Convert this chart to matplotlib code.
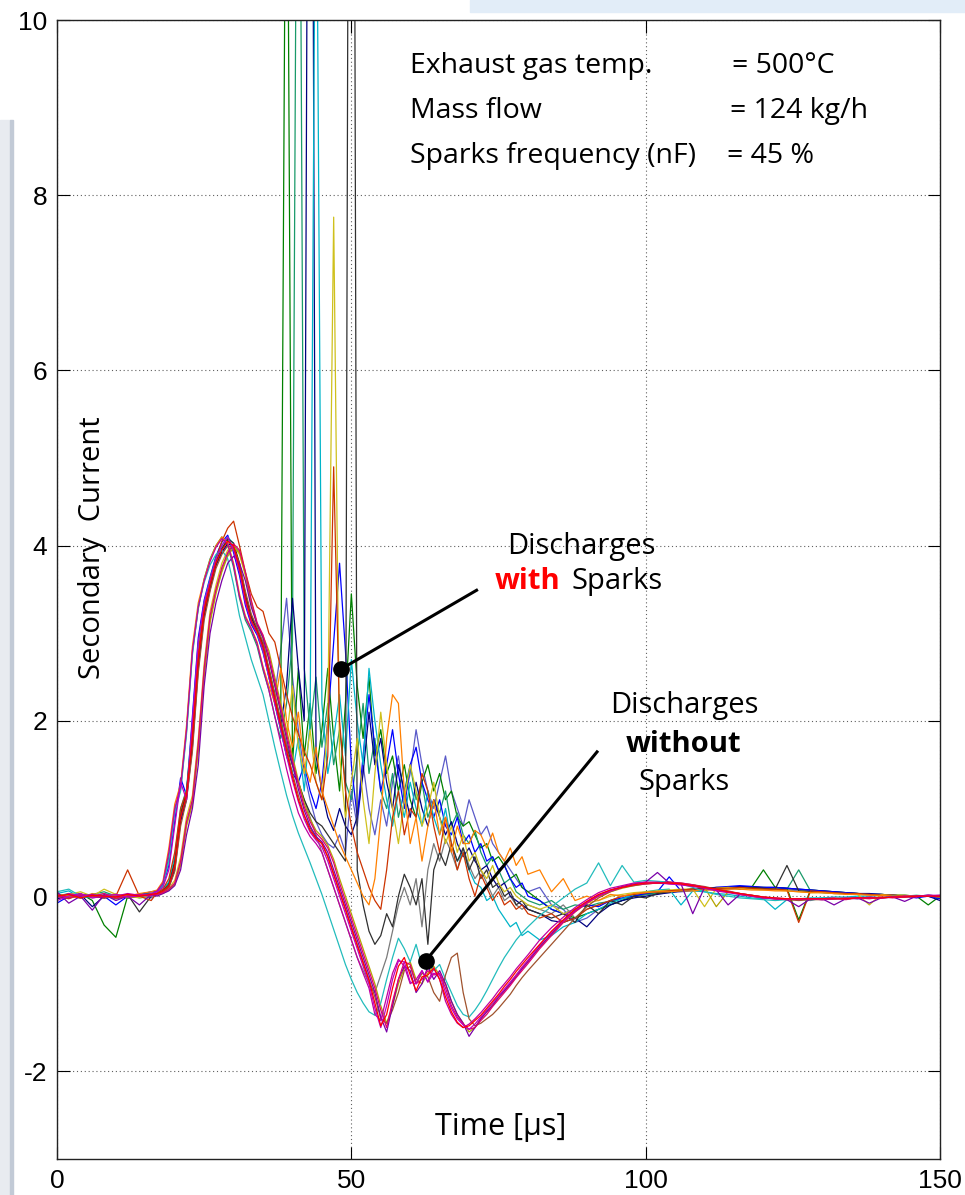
import matplotlib
matplotlib.use("Agg")
import matplotlib.pyplot as plt
from matplotlib.patches import Rectangle
import numpy as np

plt.rcParams['font.family'] = ['Liberation Sans', 'DejaVu Sans']
plt.rcParams['axes.unicode_minus'] = False

# sample times [us]: coarse before the pulse, 1 us through the discharge, coarse in the tail
t_us = np.r_[0:17:2, 17:81, 82:151:2]

# ---- discharges without sparks ----
wo_crimson = ([0.02, -0.02, 0.01, 0.0, 0.03, -0.02, 0.0, 0.02, 0.01] +
              [0.02, 0.04, 0.08, 0.15, 0.4, 0.85, 1.1, 1.75, 2.6, 3.2, 3.5, 3.75, 3.92, 4.02, 3.95, 3.7, 3.38, 3.12, 2.98] +
              [2.75, 2.45, 2.15, 1.85, 1.55, 1.28, 1.02, 0.85, 0.72, 0.65, 0.55, 0.38, 0.15, -0.05, -0.25,
               -0.45, -0.65, -0.85, -1.05, -1.3, -1.5, -1.2, -0.95, -0.75, -0.78, -1.0, -0.95, -0.85, -0.9, -0.88,
               -1.05, -1.25, -1.38, -1.46, -1.52, -1.5, -1.42, -1.35, -1.26, -1.18, -1.1, -1.02, -0.93, -0.85, -0.77] +
              [-0.6, -0.45, -0.3, -0.18, -0.08, 0.0, 0.06, 0.1, 0.13, 0.14, 0.15, 0.16, 0.15, 0.13, 0.1,
               0.07, 0.05, 0.02, 0.0, -0.02, -0.03, -0.04, -0.03, -0.04, -0.03, -0.02, -0.04, -0.02, -0.03, -0.01,
               -0.02, 0.0, -0.01, 0.01, 0.0])
wo_red = ([0.0, 0.02, -0.02, 0.01, 0.0, -0.01, 0.02, 0.0, 0.02] +
          [0.03, 0.06, 0.12, 0.35, 0.9, 1.15, 1.8, 2.7, 3.25, 3.55, 3.8, 3.95, 4.05, 4.0, 3.75, 3.4, 3.15, 3.02, 2.85] +
          [2.55, 2.25, 1.95, 1.66, 1.36, 1.1, 0.92, 0.75, 0.66, 0.6, 0.45, 0.25, 0.05, -0.15, -0.36,
           -0.56, -0.76, -0.96, -1.22, -1.48, -1.35, -1.05, -0.8, -0.7, -0.9, -1.08, -0.92, -0.9, -0.82, -0.95,
           -1.15, -1.32, -1.44, -1.5, -1.48, -1.42, -1.36, -1.28, -1.2, -1.12, -1.03, -0.95, -0.86, -0.78, -0.7] +
          [-0.55, -0.4, -0.27, -0.15, -0.06, 0.02, 0.07, 0.1, 0.13, 0.15, 0.15, 0.15, 0.14, 0.12, 0.1,
           0.08, 0.05, 0.03, 0.01, -0.01, -0.02, -0.03, -0.03, -0.03, -0.03, -0.03, -0.03, -0.02, -0.02, -0.02,
           -0.01, -0.01, 0.0, 0.0, 0.0])
wo_purple = ([0.05, -0.08, 0.0, -0.16, 0.02, -0.05, 0.0, -0.1, 0.02] +
             [0.0, 0.03, 0.06, 0.12, 0.3, 0.7, 1.0, 1.5, 2.4, 3.0, 3.35, 3.6, 3.8, 3.88, 3.8, 3.6, 3.3, 3.1, 2.95] +
             [2.7, 2.4, 2.1, 1.8, 1.5, 1.22, 0.98, 0.8, 0.68, 0.62, 0.5, 0.3, 0.1, -0.1, -0.3,
              -0.5, -0.7, -0.9, -1.1, -1.38, -1.55, -1.25, -0.95, -0.8, -0.85, -1.1, -1.0, -0.8, -0.95, -0.85,
              -1.0, -1.2, -1.35, -1.45, -1.6, -1.5, -1.4, -1.32, -1.25, -1.15, -1.08, -1.0, -0.92, -0.83, -0.75] +
             [-0.58, -0.43, -0.28, -0.17, -0.07, 0.01, 0.07, 0.11, 0.14, 0.16, 0.27, 0.15, 0.14, -0.2, 0.1,
              0.07, -0.1, 0.02, 0.0, -0.02, -0.03, -0.04, -0.12, -0.03, -0.03, -0.1, -0.03, -0.02, -0.08, -0.02,
              -0.01, -0.06, 0.0, 0.0, 0.01])
wo_pink = ([-0.02, 0.03, 0.0, 0.02, -0.01, 0.0, 0.03, 0.01, 0.0] +
           [0.06, 0.15, 0.5, 1.0, 1.25, 1.9, 2.8, 3.3, 3.6, 3.82, 3.98, 4.08, 4.02, 3.78, 3.42, 3.18, 3.05, 2.88, 2.6] +
           [2.35, 2.05, 1.75, 1.45, 1.18, 0.95, 0.8, 0.68, 0.6, 0.5, 0.3, 0.1, -0.1, -0.3, -0.5,
            -0.7, -0.88, -1.05, -1.35, -1.42, -1.15, -0.88, -0.72, -0.8, -1.0, -0.95, -0.85, -0.98, -0.82, -0.95,
            -1.2, -1.35, -1.45, -1.5, -1.46, -1.4, -1.33, -1.25, -1.17, -1.08, -1.0, -0.92, -0.83, -0.75, -0.67] +
           [-0.5, -0.36, -0.24, -0.13, -0.04, 0.04, 0.09, 0.12, 0.15, 0.16, 0.16, 0.14, 0.13, 0.11, 0.09,
            0.06, 0.04, 0.02, 0.0, -0.02, -0.03, -0.03, -0.04, -0.03, -0.04, -0.03, -0.02, -0.03, -0.01, -0.02,
            -0.01, 0.0, 0.0, 0.01, 0.0])
wo_cyan = ([0.05, 0.08, 0.0, 0.02, 0.0, -0.03, 0.0, 0.02, 0.0] +
           [0.05, 0.12, 0.4, 0.95, 1.2, 1.85, 2.75, 3.3, 3.58, 3.78, 3.9, 3.95, 3.85, 3.55, 3.2, 2.95, 2.7, 2.5, 2.3] +
           [2.0, 1.7, 1.42, 1.15, 0.92, 0.72, 0.55, 0.38, 0.2, 0.02, -0.18, -0.38, -0.58, -0.78, -0.95,
            -1.1, -1.22, -1.32, -1.36, -1.22, -0.95, -0.7, -0.48, -0.6, -0.75, -0.55, -0.8, -0.7, -0.85, -0.78,
            -0.95, -1.1, -1.25, -1.35, -1.38, -1.3, -1.2, -1.08, -0.95, -0.82, -0.7, -0.6, -0.5, -0.42, -0.35] +
           [-0.22, -0.12, -0.02, 0.08, 0.15, 0.38, 0.12, 0.35, 0.16, 0.18, 0.17, 0.16, 0.14, 0.1, 0.05,
            0.02, 0.0, -0.02, -0.03, -0.04, -0.05, -0.04, -0.03, -0.05, -0.02, -0.03, -0.02, -0.03, -0.01, -0.02,
            0.0, -0.01, 0.0, 0.01, 0.0])
wo_sienna = ([0.0, -0.02, 0.02, 0.0, 0.01, -0.03, 0.0, 0.02, 0.01] +
             [0.03, 0.05, 0.1, 0.28, 0.8, 1.1, 1.65, 2.55, 3.15, 3.48, 3.74, 3.9, 4.0, 3.98, 3.8, 3.48, 3.22, 3.06, 2.9] +
             [2.6, 2.3, 2.0, 1.7, 1.4, 1.15, 0.92, 0.78, 0.66, 0.6, 0.45, 0.25, 0.05, -0.15, -0.35,
              -0.55, -0.75, -0.95, -1.15, -1.4, -1.45, -1.3, -1.1, -0.85, -0.8, -1.0, -0.88, -0.92, -1.1, -1.2,
              -0.9, -0.7, -0.65, -1.1, -1.4, -1.48, -1.45, -1.4, -1.35, -1.28, -1.2, -1.12, -1.02, -0.93, -0.85] +
             [-0.7, -0.55, -0.4, -0.25, -0.12, -0.02, 0.05, 0.1, 0.12, 0.14, 0.15, 0.16, 0.15, 0.13, 0.11,
              0.08, 0.06, 0.03, 0.01, -0.01, -0.03, -0.04, -0.05, -0.04, -0.04, -0.03, -0.03, -0.02, -0.02, -0.02,
              -0.01, -0.01, 0.0, 0.0, 0.0])
wo_olive = ([0.01, 0.0, -0.02, 0.02, 0.0, 0.01, -0.02, 0.0, 0.02] +
            [0.02, 0.03, 0.07, 0.13, 0.35, 0.8, 1.05, 1.65, 2.5, 3.12, 3.45, 3.7, 3.88, 3.98, 3.92, 3.68, 3.35, 3.1, 2.97] +
            [2.8, 2.5, 2.2, 1.9, 1.6, 1.32, 1.06, 0.88, 0.75, 0.68, 0.58, 0.42, 0.2, 0.0, -0.2,
             -0.4, -0.6, -0.8, -1.0, -1.25, -1.45, -1.25, -1.0, -0.82, -0.75, -0.95, -1.0, -0.88, -0.8, -0.9,
             -1.0, -1.2, -1.35, -1.45, -1.55, -1.5, -1.4, -1.32, -1.24, -1.16, -1.08, -1.0, -0.9, -0.82, -0.74] +
            [-0.58, -0.44, -0.3, -0.18, -0.08, 0.0, 0.05, 0.09, 0.12, 0.14, 0.15, 0.15, 0.14, 0.13, 0.1,
             -0.12, 0.05, 0.03, 0.01, -0.01, -0.03, -0.03, -0.04, -0.03, -0.03, -0.03, -0.02, -0.02, -0.02, -0.01,
             -0.01, 0.0, 0.0, 0.0, 0.0])
wo_magenta = ([-0.05, 0.0, 0.03, -0.02, 0.0, 0.02, -0.01, 0.0, 0.03] +
              [0.05, 0.1, 0.3, 0.8, 1.3, 1.1, 2.0, 2.9, 3.35, 3.6, 3.85, 4.0, 4.1, 3.95, 3.7, 3.35, 3.12, 3.0, 2.8] +
              [2.5, 2.2, 1.9, 1.6, 1.32, 1.08, 0.88, 0.73, 0.64, 0.56, 0.4, 0.2, 0.0, -0.2, -0.4,
               -0.6, -0.8, -1.0, -1.28, -1.5, -1.25, -0.95, -0.74, -0.75, -0.98, -1.0, -0.85, -0.98, -0.88, -0.9,
               -1.1, -1.28, -1.4, -1.47, -1.52, -1.46, -1.38, -1.3, -1.22, -1.14, -1.06, -0.98, -0.9, -0.81, -0.73] +
              [-0.56, -0.41, -0.28, -0.16, -0.07, 0.01, 0.06, 0.1, 0.13, 0.15, 0.15, 0.14, 0.13, 0.12, 0.1,
               0.07, 0.05, 0.03, 0.01, -0.01, -0.02, -0.03, -0.03, -0.03, -0.04, -0.03, -0.03, -0.02, -0.02, -0.02,
               -0.01, -0.01, 0.0, 0.01, 0.01])

# ---- discharges with sparks ----
ws_green = ([0.02, 0.0, 0.03, -0.05, -0.33, -0.47, 0.0, 0.02, 0.03] +
            [0.03, 0.07, 0.15, 0.4, 0.95, 1.2, 1.85, 2.75, 3.28, 3.58, 3.82, 3.97, 4.06, 3.98, 3.72, 3.38, 3.13, 3.0, 2.83] +
            [2.6, 2.3, 2.0, 14.0, 1.5, 2.6, 1.6, 2.2, 1.4, 1.9, 2.6, 1.8, 1.2, 2.2, 3.45,
             2.4, 1.8, 2.5, 1.6, 1.9, 1.4, 1.6, 1.2, 1.5, 1.1, 0.9, 1.3, 1.5, 1.2, 1.4,
             1.1, 1.2, 0.9, 0.8, 0.85, 0.7, 0.55, 0.6, 0.4, 0.45, 0.35, 0.2, 0.25, 0.1, 0.05] +
            [-0.05, -0.15, -0.2, -0.25, -0.2, -0.15, -0.1, -0.05, 0.0, 0.02, 0.04, 0.06, 0.07, 0.08, 0.08,
             0.09, 0.1, 0.1, 0.1, 0.3, 0.1, 0.09, -0.27, 0.07, 0.06, 0.05, 0.04, 0.03, 0.02, 0.02,
             0.01, 0.01, 0.0, -0.1, 0.0])
ws_teal = ([0.0, 0.03, -0.02, 0.02, 0.05, 0.0, -0.02, 0.0, 0.03] +
           [0.05, 0.14, 0.45, 0.98, 1.22, 1.88, 2.78, 3.28, 3.62, 3.85, 4.0, 4.1, 4.0, 3.75, 3.4, 3.15, 3.02, 2.85, 2.58] +
           [2.35, 2.05, 1.8, 2.2, 2.9, 16.0, 2.6, 1.9, 2.5, 1.7, 2.2, 1.5, 1.9, 1.3, 1.1,
            1.6, 2.2, 1.4, 1.8, 1.2, 1.0, 1.4, 0.9, 1.2, 1.5, 1.1, 1.3, 0.9, 1.1, 0.95,
            1.2, 0.8, 0.95, 0.7, 0.6, 0.75, 0.5, 0.35, 0.45, 0.3, 0.15, 0.2, 0.05, 0.0, -0.05] +
           [-0.1, -0.05, -0.15, -0.1, -0.12, -0.08, -0.06, -0.03, 0.0, 0.02, 0.03, 0.05, 0.06, 0.07, 0.08,
            0.09, 0.09, 0.1, 0.09, 0.1, 0.09, 0.08, 0.3, 0.06, 0.05, 0.04, 0.03, 0.03, 0.02, 0.01,
            0.01, 0.0, 0.01, 0.0, -0.01])
ws_navy = ([-0.03, 0.0, 0.02, -0.12, 0.0, 0.02, -0.02, 0.0, 0.02] +
           [0.02, 0.05, 0.1, 0.3, 0.85, 1.1, 1.7, 2.6, 3.2, 3.5, 3.78, 3.93, 4.02, 4.0, 3.78, 3.44, 3.18, 3.04, 2.86] +
           [2.55, 2.25, 1.95, 2.4, 3.4, 2.6, 2.0, 20.0, 1.6, 1.2, 0.9, 0.75, 1.0, 0.8, 0.7,
            0.9, 1.4, 2.1, 1.5, 1.8, 1.3, 1.0, 1.5, 1.2, 0.9, 1.3, 1.0, 0.8, 1.1, 0.9,
            0.7, 0.85, 0.6, 0.45, 0.55, 0.4, 0.3, 0.35, 0.2, 0.1, 0.15, 0.0, -0.05, -0.1, -0.15] +
           [-0.2, -0.28, -0.3, -0.25, -0.35, -0.2, -0.1, -0.05, -0.02, 0.0, 0.02, 0.04, 0.06, 0.08, 0.09,
            0.1, 0.1, 0.11, 0.11, 0.1, 0.1, 0.09, 0.08, 0.07, 0.06, 0.05, 0.04, 0.03, 0.03, 0.02,
            0.01, 0.0, 0.0, 0.0, -0.05])
ws_blue = ([-0.08, 0.0, -0.02, 0.02, 0.0, -0.1, 0.0, 0.02, 0.05] +
           [0.06, 0.12, 0.35, 0.85, 1.35, 1.15, 2.05, 2.95, 3.38, 3.64, 3.88, 4.04, 4.12, 3.92, 3.66, 3.32, 3.1, 2.98, 2.78] +
           [2.5, 2.2, 1.9, 1.6, 1.4, 1.3, 1.5, 1.2, 1.0, 1.3, 2.0, 2.9, 3.8, 2.8, 1.5,
            0.9, 1.6, 2.3, 1.7, 1.2, 1.5, 1.9, 1.4, 1.0, 1.5, 1.7, 1.3, 1.1, 0.9, 1.1,
            0.8, 0.7, 0.9, 0.6, 0.7, 0.5, 0.6, 0.4, 0.45, 0.3, 0.35, 0.2, 0.1, 0.15, 0.0] +
           [-0.05, -0.15, -0.2, -0.15, -0.1, -0.12, -0.05, -0.02, 0.0, 0.03, 0.05, 0.22, 0.06, 0.08, 0.08,
            0.1, 0.11, 0.12, 0.11, 0.1, 0.1, 0.09, 0.08, 0.07, 0.06, 0.05, 0.04, 0.03, 0.02, 0.02,
            0.01, 0.0, -0.02, 0.0, -0.03])
ws_cyan = ([0.03, 0.06, -0.02, 0.0, 0.03, 0.0, 0.02, -0.02, 0.0] +
           [0.04, 0.08, 0.16, 0.45, 1.0, 1.22, 1.95, 2.85, 3.35, 3.62, 3.86, 4.0, 4.1, 4.02, 3.76, 3.4, 3.14, 3.0, 2.8] +
           [2.5, 2.2, 1.9, 1.6, 1.4, 1.8, 1.2, 2.0, 13.0, 2.2, 1.4, 1.8, 2.3, 1.6, 2.7,
            2.0, 1.5, 2.6, 2.0, 1.5, 1.1, 0.8, 1.2, 0.9, 1.3, 1.0, 0.8, 1.2, 0.9, 0.7,
            1.0, 0.6, 0.4, 0.5, 0.3, 0.15, 0.1, -0.05, 0.0, -0.15, -0.25, -0.35, -0.3, -0.45, -0.4] +
           [-0.5, -0.45, -0.35, -0.3, -0.2, -0.15, -0.08, -0.03, 0.02, 0.05, 0.07, 0.08, -0.1, 0.06, 0.05,
            0.03, 0.02, 0.0, -0.02, -0.03, -0.15, -0.04, -0.03, -0.02, -0.02, -0.01, -0.01, 0.0, 0.0, 0.01,
            0.0, 0.0, 0.0, 0.01, 0.0])
ws_black = ([0.0, -0.02, 0.02, 0.0, -0.02, 0.0, 0.02, -0.18, 0.0] +
            [0.03, 0.06, 0.13, 0.38, 0.92, 1.18, 1.82, 2.72, 3.24, 3.54, 3.79, 3.96, 4.08, 4.03, 3.8, 3.45, 3.2, 3.05, 2.88] +
            [2.55, 2.25, 1.95, 1.7, 1.5, 1.3, 1.1, 0.95, 0.85, 0.8, 0.7, 0.6, 0.5, 0.4, 25.0,
             0.3, -0.1, -0.4, -0.55, -0.45, -0.2, -0.35, 0.0, 0.25, 0.1, -0.1, 0.2, -0.55, 0.3, 0.5,
             0.35, 0.6, 0.4, 0.55, 0.3, 0.45, 0.2, 0.3, 0.1, 0.15, 0.0, 0.05, -0.1, -0.05, -0.15] +
            [-0.2, -0.25, -0.2, -0.3, -0.1, -0.2, -0.05, -0.1, 0.0, -0.02, 0.03, 0.05, 0.07, 0.08, 0.1,
             0.09, 0.1, 0.08, 0.1, 0.09, 0.08, 0.35, 0.06, 0.05, 0.04, 0.03, 0.03, 0.02, 0.02, 0.01,
             0.01, 0.0, 0.0, 0.0, 0.0])
ws_yellow = ([0.0, 0.02, 0.05, 0.0, 0.08, 0.02, 0.0, -0.02, 0.0] +
             [0.03, 0.05, 0.09, 0.18, 0.45, 0.9, 1.15, 1.8, 2.65, 3.25, 3.55, 3.8, 3.95, 4.0, 3.9, 3.66, 3.35, 3.1, 2.95] +
             [2.7, 2.4, 2.1, 1.8, 2.4, 1.7, 1.4, 1.9, 1.3, 1.1, 2.0, 7.75, 1.6, 0.9, 1.3,
              1.8, 1.1, 0.6, 1.4, 2.1, 1.5, 1.0, 0.6, 1.1, 1.5, 1.2, 0.8, 1.0, 1.3, 0.9,
              0.6, 0.8, 0.5, 0.7, 0.4, 0.5, 0.3, 0.2, 0.35, 0.15, 0.05, 0.1, 0.0, -0.05, -0.1] +
             [-0.15, -0.1, -0.2, -0.15, -0.08, -0.05, 0.0, 0.02, 0.04, 0.05, 0.06, 0.07, 0.08, 0.08, -0.12,
              0.09, 0.1, 0.09, 0.08, 0.07, 0.07, 0.06, 0.05, 0.04, 0.04, 0.03, 0.03, 0.02, -0.1, 0.02,
              0.01, 0.01, 0.0, 0.0, 0.0])
ws_brick = ([0.0, -0.03, 0.02, 0.0, -0.02, 0.0, 0.3, 0.0, -0.05] +
            [0.04, 0.08, 0.2, 0.5, 1.0, 1.2, 1.9, 2.75, 3.3, 3.6, 3.85, 4.05, 4.2, 4.28, 4.0, 3.7, 3.45, 3.3, 3.25] +
            [3.0, 2.9, 2.6, 2.3, 2.05, 1.85, 1.65, 1.5, 1.3, 1.1, 1.6, 4.9, 2.0, 1.2, 0.8,
             0.5, 0.3, 0.1, -0.05, -0.15, 0.3, 0.9, 1.2, 0.7, 1.0, 0.9, 1.4, 1.2, 0.8, 0.5,
             0.9, 0.6, 0.3, 0.5, 0.2, 0.0, 0.25, 0.1, -0.05, 0.05, -0.1, -0.05, -0.15, -0.1, -0.2] +
            [-0.25, -0.2, -0.3, -0.25, -0.15, -0.1, -0.05, 0.0, 0.02, 0.04, 0.05, 0.06, 0.07, 0.08, 0.08,
             0.09, 0.09, 0.1, 0.09, 0.08, 0.08, 0.07, -0.3, 0.06, 0.05, 0.04, 0.03, 0.03, 0.02, 0.01,
             0.01, 0.0, 0.0, 0.0, 0.0])
ws_orange = ([0.02, 0.0, -0.02, 0.03, 0.0, 0.02, 0.0, 0.03, 0.05] +
             [0.07, 0.17, 0.55, 1.05, 1.28, 1.95, 2.85, 3.35, 3.62, 3.84, 4.0, 4.1, 4.03, 3.8, 3.45, 3.2, 3.06, 2.9, 2.62] +
             [2.4, 2.2, 2.6, 2.0, 1.7, 2.1, 1.5, 1.3, 1.7, 1.2, 1.0, 0.8, 0.6, 0.45, 0.3,
              0.15, 0.0, -0.1, 0.2, 0.9, 1.8, 2.3, 2.2, 1.2, 0.6, 0.9, 0.4, 0.8, 1.1, 0.7,
              0.9, 0.5, 0.8, 0.6, 0.6, 0.75, 0.7, 0.55, 0.72, 0.5, 0.4, 0.55, 0.35, 0.45, 0.25] +
             [0.3, 0.05, 0.2, -0.05, 0.0, -0.05, 0.02, 0.0, 0.03, 0.04, 0.05, 0.05, 0.06, 0.06, 0.07,
              0.07, 0.08, 0.08, 0.07, 0.07, 0.06, 0.06, 0.05, 0.04, 0.04, 0.03, 0.02, 0.02, 0.01, 0.01,
              0.0, 0.0, 0.0, 0.0, -0.01])
ws_slate = ([0.02, -0.02, 0.0, 0.02, -0.02, 0.0, 0.02, 0.0, -0.02] +
            [0.02, 0.05, 0.11, 0.33, 0.88, 1.12, 1.78, 2.68, 3.22, 3.52, 3.77, 3.92, 4.0, 3.97, 3.74, 3.42, 3.17, 3.03, 2.86] +
            [2.55, 2.3, 2.8, 3.4, 2.5, 1.9, 1.4, 1.1, 0.85, 0.7, 0.6, 0.55, 0.7, 0.5, 1.2,
             0.8, 1.5, 1.0, 0.7, 1.1, 0.8, 1.3, 1.6, 1.1, 1.4, 1.9, 1.5, 1.2, 1.0, 1.3,
             1.6, 1.2, 1.0, 0.8, 1.1, 0.9, 0.7, 0.8, 0.6, 0.5, 0.4, 0.3, 0.2, 0.1, 0.05] +
            [0.1, -0.1, -0.15, -0.3, -0.25, -0.15, -0.1, -0.05, 0.0, 0.02, 0.03, 0.04, 0.05, 0.06, 0.07,
             0.08, 0.08, 0.09, 0.09, 0.08, 0.08, 0.07, 0.06, 0.05, 0.05, 0.04, 0.03, 0.02, 0.02, 0.01,
             0.01, 0.0, 0.0, 0.0, -0.02])
ws_gray = ([0.0, 0.02, 0.0, -0.02, 0.0, 0.02, -0.02, 0.0, 0.01] +
           [0.01, 0.04, 0.07, 0.14, 0.38, 0.82, 1.08, 1.7, 2.55, 3.15, 3.48, 3.72, 3.9, 4.0, 3.93, 3.68, 3.36, 3.1, 2.95] +
           [2.55, 2.25, 2.0, 1.75, 1.5, 1.3, 1.1, 0.9, 0.7, 0.5, 0.3, 0.1, -0.1, -0.3, -0.5,
            -0.7, -0.85, -1.0, -1.1, -0.9, -0.7, -0.4, -0.1, 0.1, -0.1, 0.2, -0.35, 0.3, 0.6, 0.4,
            0.65, 0.5, 0.3, 0.55, 0.35, 0.2, 0.3, 0.15, 0.0, 0.1, -0.05, 0.0, -0.1, -0.15, -0.1] +
           [-0.15, -0.2, -0.1, -0.25, -0.15, -0.1, -0.05, 0.0, 0.02, 0.03, 0.05, 0.06, 0.07, 0.08, 0.08,
            0.09, 0.09, 0.1, 0.1, 0.09, 0.08, 0.08, 0.07, 0.06, 0.05, 0.04, 0.04, 0.03, 0.02, 0.02,
            0.01, 0.01, 0.0, 0.0, 0.0])

with_sparks = [ws_slate, ws_gray, ws_green, ws_teal, ws_navy, ws_blue, ws_cyan,
               ws_black, ws_yellow, ws_brick, ws_orange]
with_colors = ['#5a5ac8', '#7a7a7a', '#008000', '#1a9a6a', '#000080', '#0000ff', '#00b4c8',
               '#303030', '#cfc01c', '#cc3300', '#ff8000']
without_sparks = [wo_olive, wo_cyan, wo_sienna, wo_purple, wo_crimson, wo_pink, wo_magenta, wo_red]
without_colors = ['#b4a400', '#22bcbc', '#a0522d', '#7a00a8', '#e0006e', '#c000a0', '#bf00bf', '#ff0000']

info_labels = ["Exhaust gas temp.", "Mass flow", "Sparks frequency (nF)"]
info_values = ["= 500°C", "= 124 kg/h", "= 45 %"]

fig = plt.figure(figsize=(9.65, 11.95), dpi=100)
W, H = 965, 1195
# slide background remnants
fig.patches.append(Rectangle((0, 0), 10 / W, 1 - 120 / H, transform=fig.transFigure,
                             color='#e8ebf0', zorder=0))
fig.patches.append(Rectangle((10 / W, 0), 3 / W, 1 - 120 / H, transform=fig.transFigure,
                             color='#c2cad6', zorder=0))
fig.patches.append(Rectangle((470 / W, 1 - 12 / H), 1, 12 / H, transform=fig.transFigure,
                             color='#e2edf8', zorder=0))

ax = fig.add_axes([57 / W, 1 - 1159 / H, (940 - 57) / W, (1159 - 20) / H])

for vals, c in zip(with_sparks, with_colors):
    if len(vals) != len(t_us):
        raise ValueError(f"length {len(vals)}")
    ax.plot(t_us, vals, color=c, lw=0.9)
for vals, c in zip(without_sparks, without_colors):
    if len(vals) != len(t_us):
        raise ValueError(f"length {len(vals)}")
    ax.plot(t_us, vals, color=c, lw=0.9)

ax.set_xlim(0, 150)
ax.set_ylim(-3, 10)
ax.set_xticks([0, 50, 100, 150])
ax.set_yticks([-2, 0, 2, 4, 6, 8, 10])
ax.grid(True, linestyle=(0, (1, 2.5)), color='#606060', lw=0.8)
ax.tick_params(direction='in', length=9, width=0.8, top=True, right=True,
               labelsize=19, pad=7)
for s in ax.spines.values():
    s.set_color('#222222')
    s.set_linewidth(1.0)

tf = 'Open Sans'
ax.text(75.4, -2.64, "Time [µs]", ha='center', va='center', fontsize=22, family=tf)
ax.text(6.1, 3.98, "Secondary  Current", ha='center', va='center', rotation=90,
        fontsize=21, family=tf)

info_x = [114.6, 114.3, 113.9]
for i, (lab, val) in enumerate(zip(info_labels, info_values)):
    yy = 9.47 - 0.51 * i
    ax.text(59.9, yy, lab, ha='left', va='center', fontsize=20.5, family=tf)
    ax.text(info_x[i], yy, val, ha='left', va='center', fontsize=20.5, family=tf)

# pointers
ax.plot([48.2, 71.5], [2.59, 3.5], color='k', lw=2.2, solid_capstyle='butt')
ax.plot([48.2], [2.59], 'o', color='k', ms=11)
ax.plot([62.6, 91.9], [-0.74, 1.66], color='k', lw=2.2, solid_capstyle='butt')
ax.plot([62.6], [-0.74], 'o', color='k', ms=11)

fs = 21
ax.text(89.1, 3.99, "Discharges", ha='center', va='center', fontsize=fs, family=tf)
ax.text(85.6, 3.59, "with", ha='right', va='center', fontsize=fs, family=tf,
        color='red', weight='bold')
ax.text(87.4, 3.59, "Sparks", ha='left', va='center', fontsize=fs, family=tf)

ax.text(106.5, 2.18, "Discharges", ha='center', va='center', fontsize=fs, family=tf)
ax.text(106.5, 1.73, "without", ha='center', va='center', fontsize=fs, family=tf,
        weight='bold')
ax.text(106.5, 1.30, "Sparks", ha='center', va='center', fontsize=fs, family=tf)

fig.savefig("out.png", dpi=100)
